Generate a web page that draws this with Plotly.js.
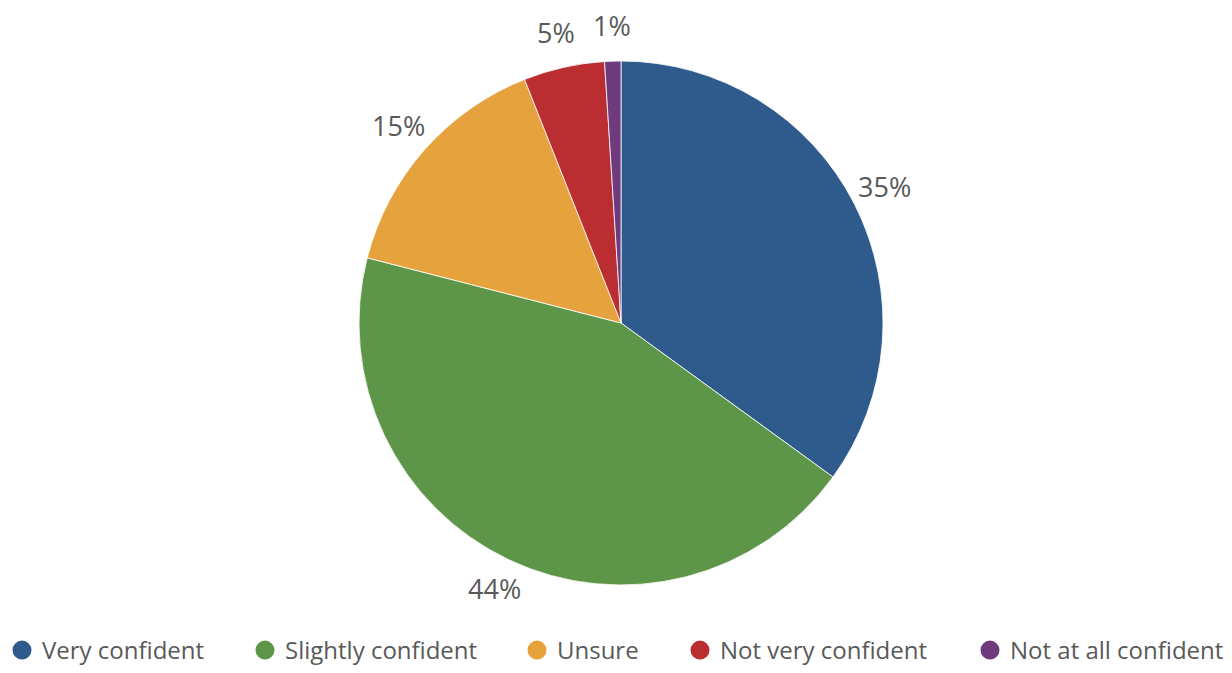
<!DOCTYPE html>
<html>
<head>
<meta charset="utf-8">
<script src="https://cdn.plot.ly/plotly-3.0.1.min.js"></script>
<style>html,body{margin:0;padding:0;background:#fff;}#chart{width:1232px;height:673px;}</style>
</head>
<body>
<div id="chart"></div>
<script>
const categories = ["Very confident", "Slightly confident", "Unsure", "Not very confident", "Not at all confident"];
const values = [35, 44, 15, 5, 1];
const colors = ["#2E5A8C", "#5D9648", "#E6A23C", "#BA2D30", "#6F3A7E"];
const legendX = [2, 245, 517, 680, 970];

const textColor = "#595959";
const fontFamily = "'Open Sans', 'Noto Sans', sans-serif";

const W = 1232, H = 673;
const margin = {l: 10, r: 0, t: 61, b: 88};
const plotW = W - margin.l - margin.r, plotH = H - margin.t - margin.b;
const radius = Math.min(plotW, plotH) / 2;
const labelDist = radius + 34;

const traces = [{
  type: "pie",
  values: values,
  labels: categories,
  sort: false,
  direction: "clockwise",
  rotation: 0,
  marker: {colors: colors, line: {color: "#ffffff", width: 0.8}},
  textinfo: "none",
  showlegend: false,
  hoverinfo: "label+percent"
}];

categories.forEach((c, i) => {
  traces.push({
    type: "scatter",
    mode: "markers",
    x: [null], y: [null],
    name: c,
    marker: {color: colors[i], size: 16, symbol: "circle", line: {color: colors[i], width: 3}},
    showlegend: true,
    legend: i === 0 ? "legend" : "legend" + (i + 1),
    hoverinfo: "skip"
  });
});

// percentage labels placed outside each slice, at the slice's mid-angle
const total = values.reduce((a, b) => a + b, 0);
const annotations = [];
let cum = 0;
values.forEach((v, i) => {
  const mid = (cum + v / 2) / total * 2 * Math.PI;
  cum += v;
  const dx = labelDist * Math.sin(mid);
  const dy = -labelDist * Math.cos(mid);
  annotations.push({
    xref: "paper", yref: "paper",
    x: 0.5 + dx / plotW,
    y: 0.5 - dy / plotH,
    yshift: 2,
    text: Math.round(v / total * 100) + "%",
    showarrow: false,
    xanchor: "center", yanchor: "middle",
    font: {family: fontFamily, color: textColor, size: 27}
  });
});

const layout = {
  width: W, height: H,
  margin: Object.assign({autoexpand: false}, margin),
  paper_bgcolor: "#ffffff",
  plot_bgcolor: "#ffffff",
  font: {family: fontFamily, color: textColor, size: 24},
  xaxis: {visible: false},
  yaxis: {visible: false},
  showlegend: true,
  annotations: annotations
};
categories.forEach((c, i) => {
  const key = i === 0 ? "legend" : "legend" + (i + 1);
  layout[key] = {
    xref: "container", yref: "container",
    x: legendX[i] / W, y: -5 / H,
    xanchor: "left", yanchor: "bottom",
    orientation: "h",
    bgcolor: "rgba(0,0,0,0)",
    font: {family: fontFamily, color: textColor, size: 24},
    itemsizing: "trace"
  };
});

Plotly.newPlot("chart", traces, layout, {displayModeBar: false, staticPlot: true});
</script>
</body>
</html>
